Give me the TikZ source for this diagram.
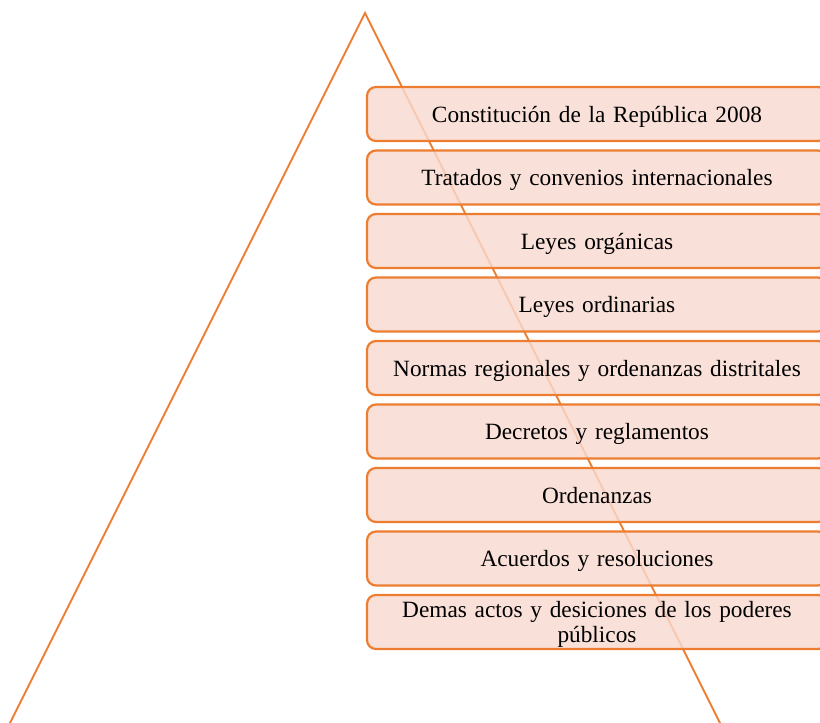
\documentclass[tikz,border=0pt]{standalone}
\usepackage{fontspec}
\setmainfont{Liberation Serif}
\definecolor{orng}{HTML}{ED7D31}
\definecolor{boxfill}{HTML}{F8D9CF}
\tikzset{
  tri/.style={draw=orng, line width=1.8pt, line join=miter},
  lvl/.style={draw=orng, line width=2.2pt, fill=boxfill, fill opacity=0.82, text opacity=1,
    rounded corners=9pt, minimum width=460pt, minimum height=54pt, inner sep=2pt,
    font=\fontsize{23.3}{25}\selectfont, align=center, text width=440pt,
    text height=16.5pt, text depth=0pt}
}
\begin{document}
\begin{tikzpicture}[x=1pt,y=-1pt]
\useasboundingbox (0,0) rectangle (820,723);
\clip (0,0) rectangle (820,723);
\coordinate (apex) at (365,13);
\coordinate (bl) at (6,731);
\coordinate (br) at (724,731);
\draw[tri] (bl) -- (apex) -- (br);
\node[lvl] (n1) at (597,114) {Constitución de la República 2008};
\node[lvl] (n2) at (597,177.5) {Tratados y convenios internacionales};
\node[lvl] (n3) at (597,241) {Leyes orgánicas};
\node[lvl] (n4) at (597,304.5) {Leyes ordinarias};
\node[lvl] (n5) at (597,368) {Normas regionales y ordenanzas distritales};
\node[lvl] (n6) at (597,431.5) {Decretos y reglamentos};
\node[lvl] (n7) at (597,495) {Ordenanzas};
\node[lvl] (n8) at (597,558.5) {Acuerdos y resoluciones};
\node[lvl, text depth=25pt] (n9) at (597,622) {Demas actos y desiciones de los poderes\\públicos};
\end{tikzpicture}
\end{document}
